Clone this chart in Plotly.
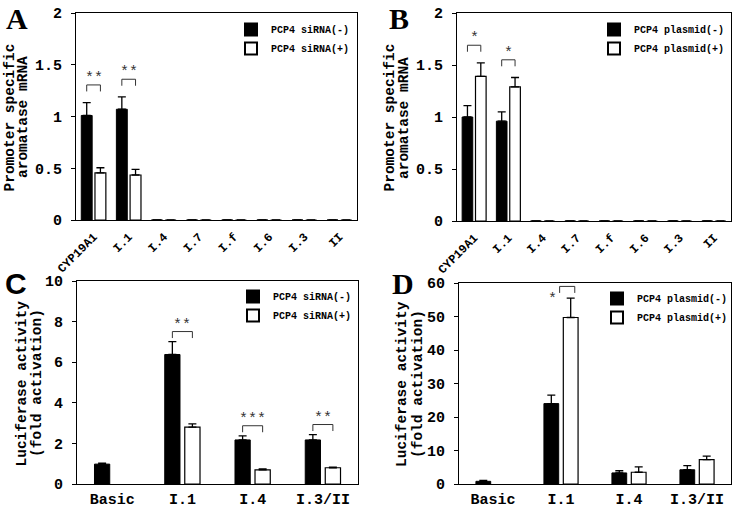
import plotly.graph_objects as go

W, H = 739, 510

# ---------------- data ----------------
# Panel A: promoter-specific aromatase mRNA, PCP4 siRNA
a_categories = ["CYP19A1", "I.1", "I.4", "I.7", "I.f", "I.6", "I.3", "II"]
a_neg = [1.01, 1.07, 0, 0, 0, 0, 0, 0]
a_neg_err = [0.125, 0.12, 0, 0, 0, 0, 0, 0]
a_pos = [0.455, 0.435, 0, 0, 0, 0, 0, 0]
a_pos_err = [0.05, 0.055, 0, 0, 0, 0, 0, 0]
a_names = ["PCP4 siRNA(-)", "PCP4 siRNA(+)"]
a_sig_cats = ["CYP19A1", "I.1"]
a_sig_marks = ["**", "**"]

# Panel B: promoter-specific aromatase mRNA, PCP4 plasmid
b_categories = ["CYP19A1", "I.1", "I.4", "I.7", "I.f", "I.6", "I.3", "II"]
b_neg = [1.0, 0.96, 0, 0, 0, 0, 0, 0]
b_neg_err = [0.11, 0.09, 0, 0, 0, 0, 0, 0]
b_pos = [1.39, 1.29, 0, 0, 0, 0, 0, 0]
b_pos_err = [0.13, 0.09, 0, 0, 0, 0, 0, 0]
b_names = ["PCP4 plasmid(-)", "PCP4 plasmid(+)"]
b_sig_cats = ["CYP19A1", "I.1"]
b_sig_marks = ["*", "*"]

# Panel C: luciferase activity, PCP4 siRNA
c_categories = ["Basic", "I.1", "I.4", "I.3/II"]
c_neg = [0.98, 6.38, 2.17, 2.17]
c_neg_err = [0.05, 0.63, 0.2, 0.26]
c_pos = [None, 2.8, 0.7, 0.8]
c_pos_err = [0, 0.16, 0.04, 0.03]
c_names = ["PCP4 siRNA(-)", "PCP4 siRNA(+)"]
c_sig_cats = ["I.1", "I.4", "I.3/II"]
c_sig_marks = ["**", "***", "**"]

# Panel D: luciferase activity, PCP4 plasmid
d_categories = ["Basic", "I.1", "I.4", "I.3/II"]
d_neg = [0.8, 24.0, 3.3, 4.25]
d_neg_err = [0.3, 2.5, 0.65, 1.25]
d_pos = [None, 49.7, 3.5, 7.3]
d_pos_err = [0, 5.8, 1.6, 1.0]
d_names = ["PCP4 plasmid(-)", "PCP4 plasmid(+)"]
d_sig_cats = ["I.1"]
d_sig_marks = ["*"]

# ---------------- styling ----------------
MONO = "Liberation Mono, Courier New, monospace"
fig = go.Figure()

panels = [
    dict(cats=a_categories, neg=a_neg, neg_err=a_neg_err, pos=a_pos, pos_err=a_pos_err,
         names=a_names, sig_cats=a_sig_cats, sig_marks=a_sig_marks,
         box=(76, 13, 357, 220), yrange=[0, 2], dtick=0.5, slot=0.39, bw=0.31,
         tickangle=-45, xfont=12, legend=(231, 15), letter=("A", 16.5, 19, "Liberation Serif"),
         ytitle=["Promoter specific", "aromatase mRNA"], ytx=(10, 23.5), pad=0.085, star_mode="above"),
    dict(cats=b_categories, neg=b_neg, neg_err=b_neg_err, pos=b_pos, pos_err=b_pos_err,
         names=b_names, sig_cats=b_sig_cats, sig_marks=b_sig_marks,
         box=(457, 13, 731, 221), yrange=[0, 2], dtick=0.5, slot=0.39, bw=0.31,
         tickangle=-45, xfont=12, legend=(594, 15), letter=("B", 399, 19, "Liberation Serif"),
         ytitle=["Promoter specific", "aromatase mRNA"], ytx=(389.5, 404), pad=0.085, star_mode="above"),
    dict(cats=c_categories, neg=c_neg, neg_err=c_neg_err, pos=c_pos, pos_err=c_pos_err,
         names=c_names, sig_cats=c_sig_cats, sig_marks=c_sig_marks,
         box=(77, 281, 358, 484), yrange=[0, 10], dtick=2, slot=0.285, bw=0.217,
         tickangle=0, xfont=15, legend=(233, 282), letter=("C", 16, 283, "Liberation Sans"),
         ytitle=["Luciferase activity", "(fold activation)"], ytx=(21, 36.5), pad=0.05, star_mode="above"),
    dict(cats=d_categories, neg=d_neg, neg_err=d_neg_err, pos=d_pos, pos_err=d_pos_err,
         names=d_names, sig_cats=d_sig_cats, sig_marks=d_sig_marks,
         box=(459, 283, 731, 484), yrange=[0, 60], dtick=10, slot=0.285, bw=0.217,
         tickangle=0, xfont=15, legend=(597, 284), letter=("D", 402.5, 283, "Liberation Serif"),
         ytitle=["Luciferase activity", "(fold activation)"], ytx=(401.5, 417.5), pad=0.058, star_mode="left"),
]

shapes = []
annotations = []
layout_axes = {}

for i, p in enumerate(panels, start=1):
    xa = "x" if i == 1 else f"x{i}"
    ya = "y" if i == 1 else f"y{i}"
    lg = "legend" if i == 1 else f"legend{i}"
    x0, y0, x1, y1 = p["box"]
    slot, bw = p["slot"], p["bw"]
    n = len(p["cats"])

    fig.add_trace(go.Bar(
        x=p["cats"], y=p["neg"], name=p["names"][0], xaxis=xa, yaxis=ya, legend=lg,
        width=bw, offset=-(slot + bw) / 2,
        marker=dict(color="black", line=dict(color="black", width=1)),
        error_y=dict(type="data", array=p["neg_err"], arrayminus=[0] * n, symmetric=False,
                     color="black", thickness=1.3, width=4),
    ))
    fig.add_trace(go.Bar(
        x=p["cats"], y=p["pos"], name=p["names"][1], xaxis=xa, yaxis=ya, legend=lg,
        width=bw, offset=(slot - bw) / 2,
        marker=dict(color="white", line=dict(color="black", width=1.2)),
        error_y=dict(type="data", array=p["pos_err"], arrayminus=[0] * n, symmetric=False,
                     color="black", thickness=1.3, width=4),
    ))

    axsuffix = "" if i == 1 else str(i)
    layout_axes[f"xaxis{axsuffix}"] = dict(
        domain=[x0 / W, x1 / W], anchor=ya, type="category", range=[-0.5, n - 0.5],
        showline=True, mirror=True, linecolor="black", linewidth=1, ticks="",
        showgrid=False, zeroline=False, tickangle=p["tickangle"], automargin=False,
        tickfont=dict(family=MONO, size=p["xfont"], color="black", weight="bold"),
        ticklabelstandoff=4 if p["tickangle"] else 1,
    )
    layout_axes[f"yaxis{axsuffix}"] = dict(
        domain=[1 - y1 / H, 1 - y0 / H], anchor=xa, range=p["yrange"], dtick=p["dtick"],
        showline=True, mirror=True, linecolor="black", linewidth=1, automargin=False,
        ticks="outside", ticklen=4, tickcolor="black", showgrid=False, zeroline=False,
        tickfont=dict(family=MONO, size=15, color="black", weight="bold"),
        ticklabelstandoff=6,
    )
    lx, ly = p["legend"]
    layout_axes[lg] = dict(
        x=lx / W, y=1 - ly / H, xanchor="left", yanchor="top",
        bgcolor="rgba(0,0,0,0)", borderwidth=0,
        font=dict(family=MONO, size=10, color="black", weight="bold"),
        itemsizing="constant", tracegroupgap=0,
    )

    # significance brackets computed from bar tops
    rng = p["yrange"][1] - p["yrange"][0]
    leg = rng * 6.5 / (y1 - y0)
    for cat, mark in zip(p["sig_cats"], p["sig_marks"]):
        k = p["cats"].index(cat)
        tops = [v + e for v, e in ((p["neg"][k], p["neg_err"][k]), (p["pos"][k], p["pos_err"][k]))
                if v is not None]
        top = max(tops) + rng * p["pad"]
        xl = k - slot / 2
        xr = k + slot / 2
        if p["star_mode"] == "left":
            xl, xr = k - 0.02, k + slot / 2 + 0.06
        line = dict(color="#333333", width=1)
        shapes += [
            dict(type="line", xref=xa, yref=ya, x0=xl, x1=xl, y0=top - leg, y1=top, line=line),
            dict(type="line", xref=xa, yref=ya, x0=xl, x1=xr, y0=top, y1=top, line=line),
            dict(type="line", xref=xa, yref=ya, x0=xr, x1=xr, y0=top - leg, y1=top, line=line),
        ]
        if p["star_mode"] == "above":
            annotations.append(dict(x=(xl + xr) / 2, y=top, xref=xa, yref=ya, text=mark,
                                    showarrow=False, xanchor="center", yanchor="bottom", yshift=-4,
                                    font=dict(family=MONO, size=15, color="#333333")))
        else:
            annotations.append(dict(x=xl, y=top - 2 * leg, xref=xa, yref=ya, text=mark,
                                    showarrow=False, xanchor="right", yanchor="middle", xshift=-1,
                                    font=dict(family=MONO, size=15, color="#333333")))

    # y-axis title lines
    cy = (y0 + y1) / 2 + 1
    for txt, tx in zip(p["ytitle"], p["ytx"]):
        annotations.append(dict(x=tx / W, y=1 - cy / H, xref="paper", yref="paper", text=txt,
                                textangle=-90, showarrow=False, xanchor="center", yanchor="middle",
                                font=dict(family=MONO, size=14.5, color="black", weight="bold")))
    # panel letter
    letter, lxp, lyp, fam = p["letter"]
    annotations.append(dict(x=lxp / W, y=1 - lyp / H, xref="paper", yref="paper", text=letter,
                            showarrow=False, xanchor="center", yanchor="middle",
                            font=dict(family=fam, size=30, color="black", weight="bold")))

fig.update_layout(
    width=W, height=H, margin=dict(l=0, r=0, t=0, b=0, autoexpand=False),
    paper_bgcolor="white", plot_bgcolor="white",
    barmode="overlay", showlegend=True,
    shapes=shapes, annotations=annotations,
    **layout_axes,
)

fig.write_html("out.html", config={"displayModeBar": False},
               post_script="document.body.style.margin='0';document.body.style.padding='0';")
